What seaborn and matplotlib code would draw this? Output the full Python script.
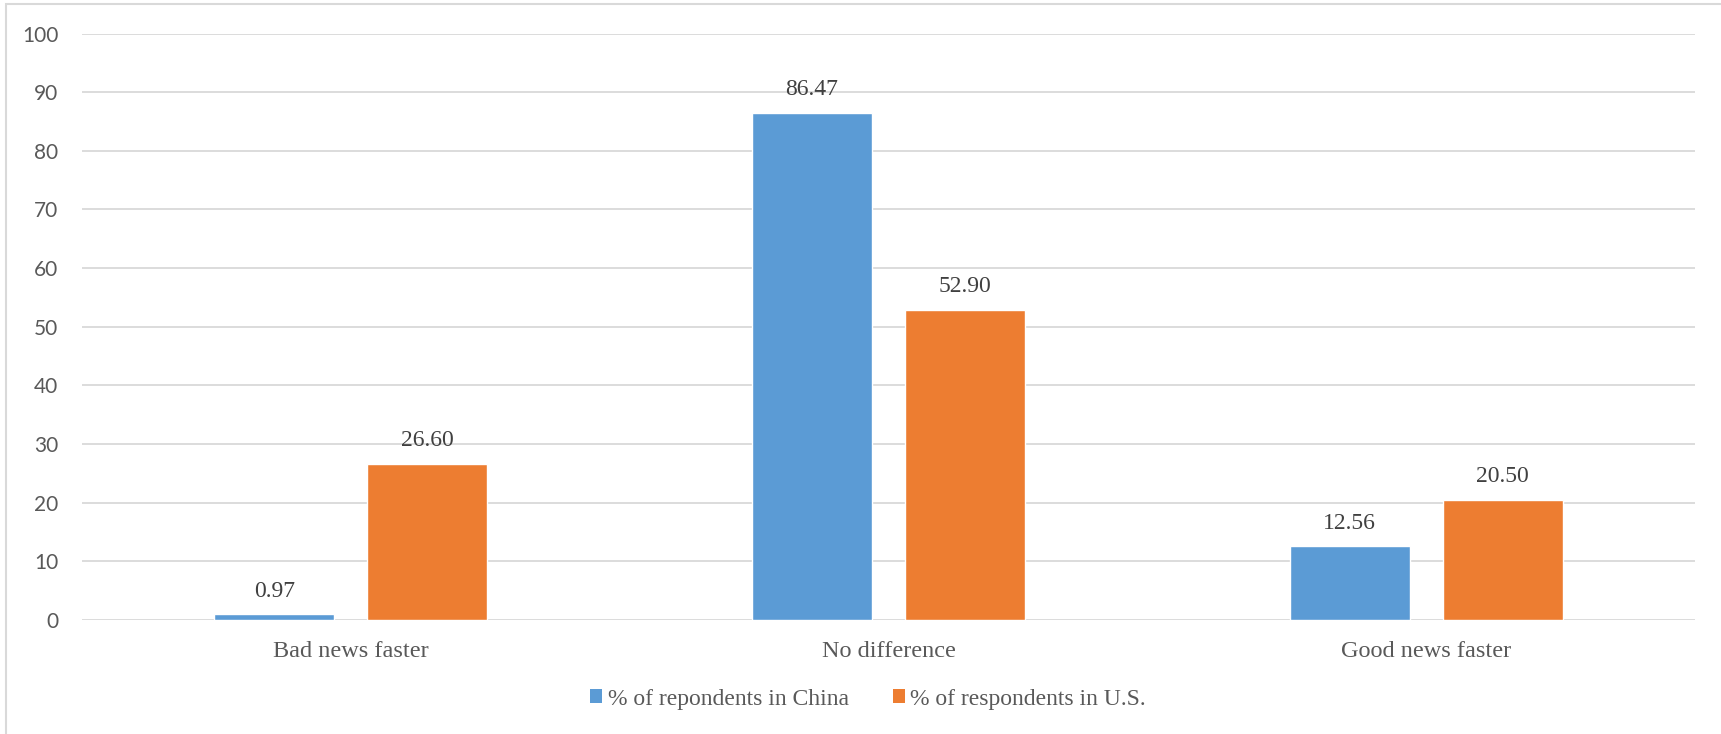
import matplotlib
matplotlib.use("Agg")
import matplotlib.pyplot as plt
from matplotlib.patches import Rectangle, Patch
import seaborn as sns
import pandas as pd

categories = ["Bad news faster", "No difference", "Good news faster"]
series_names = ["% of repondents in China", "% of respondents in U.S."]
china_values = [0.97, 86.47, 12.56]
us_values = [26.60, 52.90, 20.50]
y_ticks = [0, 10, 20, 30, 40, 50, 60, 70, 80, 90, 100]

colors = ["#5B9BD5", "#ED7D31"]

df = pd.DataFrame({
    "category": categories * 2,
    "series": [series_names[0]] * 3 + [series_names[1]] * 3,
    "value": china_values + us_values,
})

sns.set_theme(style="white")
serif = ["Liberation Serif", "DejaVu Serif"]
sans = ["Lato", "DejaVu Sans"]

W, H = 1721, 734
fig = plt.figure(figsize=(W / 100, H / 100), dpi=100)
ax = fig.add_axes([82 / W, 1 - 620 / H, (1695 - 82) / W, (620 - 33.5) / H])

sns.barplot(data=df, x="category", y="value", hue="series", order=categories,
            hue_order=series_names, palette=colors, width=0.57, gap=0.217,
            saturation=1, legend=False, ax=ax)

ax.set_ylim(0, 100)
ax.set_yticks(y_ticks)
ax.grid(axis="y", color="#D9D9D9", linewidth=1.3)
ax.set_axisbelow(True)
for side in ["top", "right", "left", "bottom"]:
    ax.spines[side].set_visible(False)
ax.set_xlabel("")
ax.set_ylabel("")
ax.tick_params(axis="y", length=0, pad=17, labelsize=15, labelcolor="#595959")
ax.tick_params(axis="x", length=0, pad=15, labelsize=17.5, labelcolor="#595959")
for lbl in ax.get_yticklabels():
    lbl.set_fontfamily(sans)
for lbl in ax.get_xticklabels():
    lbl.set_fontfamily(serif)

for container in ax.containers:
    ax.bar_label(container, labels=[f"{v:.2f}" for v in container.datavalues],
                 padding=9, fontsize=17, color="#404040", family=serif)

handles = [Patch(facecolor=c, edgecolor="none") for c in colors]
fig.legend(handles, series_names, loc="center", bbox_to_anchor=(868 / W, 1 - 699 / H),
           ncol=2, frameon=False, prop={"family": serif, "size": 17},
           labelcolor="#595959", handlelength=0.51, handleheight=0.51,
           handletextpad=0.25, columnspacing=1.85, borderpad=0)

# chart-area outline
fig.patches.append(Rectangle((5.5 / W, -0.1), 1.2, 1 - 4 / H + 0.1,
                             transform=fig.transFigure, fill=False,
                             edgecolor="#D9D9D9", linewidth=1.5))

fig.savefig("out.png", dpi=100)
